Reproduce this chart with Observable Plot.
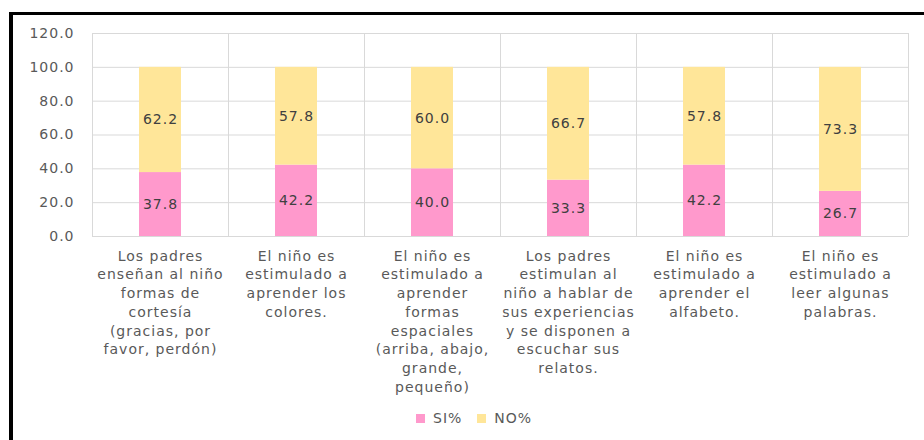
<!DOCTYPE html>
<html>
<head>
<meta charset="utf-8">
<script src="https://cdn.jsdelivr.net/npm/d3@7"></script>
<script src="https://cdn.jsdelivr.net/npm/@observablehq/plot@0.6"></script>
<style>
  html, body { margin: 0; padding: 0; background: #fff; }
  #wrap { position: relative; width: 924px; height: 440px; overflow: hidden; }
  #frame { position: absolute; left: 9px; top: 12px; width: 930px; height: 440px;
           border-left: 4px solid #000; border-top: 3px solid #000; box-sizing: border-box; }
  #chart { position: absolute; left: 0; top: 0; }
  #chart svg { background: transparent; }
  [aria-label="x-axis tick label"] text { font-family: "DejaVu Sans", Verdana, sans-serif; font-size: 14px; letter-spacing: 1px; fill: #595959; }
  [aria-label="y-axis tick label"] text { font-family: "DejaVu Sans", Verdana, sans-serif; font-size: 14px; letter-spacing: 1px; fill: #595959; }
  [aria-label="text"] text { letter-spacing: 1px; }
  #legend { position: absolute; left: 416px; top: 408px; white-space: nowrap;
            font-family: "DejaVu Sans", Verdana, sans-serif; font-size: 14px; letter-spacing: 1px; color: #595959; line-height: 20px; }
  #legend span.item { display: inline-block; margin-right: 15px; }
  #legend span.sw { display: inline-block; width: 9px; height: 9px; margin-right: 8px; vertical-align: 0px; }
</style>
</head>
<body>
<div id="wrap">
  <div id="frame"></div>
  <div id="chart"></div>
  <div id="legend"></div>
</div>
<script>
const categories = [
  "Los padres enseñan al niño formas de cortesía (gracias, por favor, perdón)",
  "El niño es estimulado a aprender los colores.",
  "El niño es estimulado a aprender formas espaciales (arriba, abajo, grande, pequeño)",
  "Los padres estimulan al niño a hablar de sus experiencias y se disponen a escuchar sus relatos.",
  "El niño es estimulado a aprender el alfabeto.",
  "El niño es estimulado a leer algunas palabras."
];
const tickLabels = [
  "Los padres\nenseñan al niño\nformas de\ncortesía\n(gracias, por\nfavor, perdón)",
  "El niño es\nestimulado a\naprender los\ncolores.",
  "El niño es\nestimulado a\naprender\nformas\nespaciales\n(arriba, abajo,\ngrande,\npequeño)",
  "Los padres\nestimulan al\nniño a hablar de\nsus experiencias\ny se disponen a\nescuchar sus\nrelatos.",
  "El niño es\nestimulado a\naprender el\nalfabeto.",
  "El niño es\nestimulado a\nleer algunas\npalabras."
];
const seriesNames = ["SI%", "NO%"];
const siValues = [37.8, 42.2, 40.0, 33.3, 42.2, 26.7];
const noValues = [62.2, 57.8, 60.0, 66.7, 57.8, 73.3];
const yTicks = [0, 20, 40, 60, 80, 100, 120];
const colors = ["#FF99CC", "#FFE699"];

const data = [];
categories.forEach((c, i) => {
  data.push({cat: c, series: seriesNames[0], value: siValues[i]});
  data.push({cat: c, series: seriesNames[1], value: noValues[i]});
});

const W = 924, H = 400, ML = 92, MR = 16, MT = 33, MB = 164;
const step = (W - ML - MR) / categories.length;
const labelOf = new Map(categories.map((c, i) => [c, tickLabels[i]]));

const chart = Plot.plot({
  width: W, height: H,
  marginLeft: ML, marginRight: MR, marginTop: MT, marginBottom: MB,
  style: {background: "transparent", overflow: "visible"},
  x: {domain: categories, paddingInner: 0.69, paddingOuter: 0.345, label: null},
  y: {domain: [0, 120], label: null},
  color: {domain: seriesNames, range: colors},
  marks: [
    Plot.gridY(yTicks, {stroke: "#d9d9d9", strokeOpacity: 1, strokeWidth: 1}),
    Plot.ruleX(categories, {x: d => d, dx: -step / 2, y1: 0, y2: 120, stroke: "#d9d9d9"}),
    Plot.ruleX(categories.slice(-1), {x: d => d, dx: step / 2, y1: 0, y2: 120, stroke: "#d9d9d9"}),
    Plot.barY(data, {x: "cat", y: "value", fill: "series", order: seriesNames}),
    Plot.text(data, Plot.stackY({x: "cat", y: "value", z: "series", order: seriesNames,
      text: d => d3.format(".1f")(d.value),
      fill: "#404040", fontSize: 14, fontFamily: "DejaVu Sans, Verdana, sans-serif"})),
    Plot.axisY({ticks: yTicks, tickFormat: d3.format(".1f"), tickSize: 0, tickPadding: 18}),
    Plot.axisX({tickSize: 0, tickPadding: 11, tickFormat: d => labelOf.get(d), lineHeight: 1.335, lineAnchor: "top"})
  ]
});
document.getElementById("chart").appendChild(chart);

const legend = document.getElementById("legend");
seriesNames.forEach((s, i) => {
  const item = document.createElement("span");
  item.className = "item";
  const sw = document.createElement("span");
  sw.className = "sw";
  sw.style.background = colors[i];
  item.appendChild(sw);
  item.appendChild(document.createTextNode(s));
  legend.appendChild(item);
});
</script>
</body>
</html>
